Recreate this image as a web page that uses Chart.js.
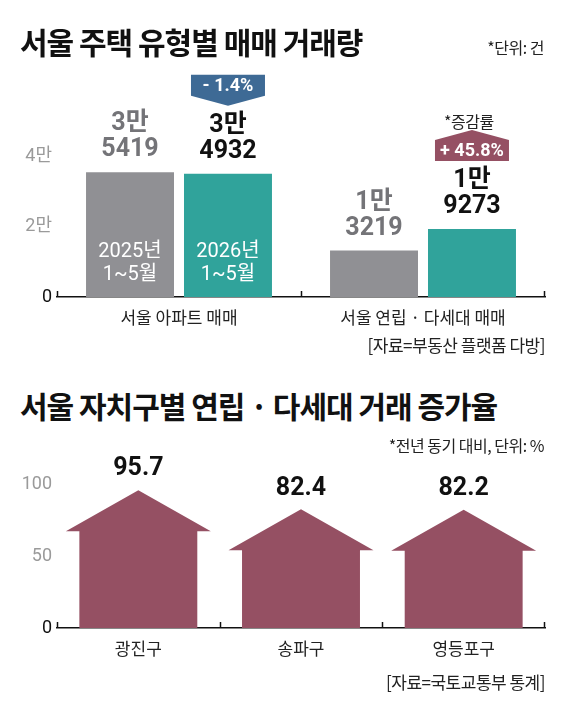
<!DOCTYPE html>
<html>
<head>
<meta charset="utf-8">
<script src="https://cdn.jsdelivr.net/npm/chart.js@4"></script>
<style>
body { margin: 0; background: #fff; }
#wrap { position: relative; width: 566px; height: 716px; overflow: hidden; }
.box { position: absolute; left: 0; width: 566px; }
.t { position: absolute; white-space: nowrap; font-family: 'Noto Sans CJK KR', sans-serif; color: #111; }
.title { font-weight: 700; font-size: 30px; letter-spacing: -1px; line-height: 36px; }
.note { font-size: 16px; line-height: 20px; letter-spacing: -0.5px; color: #222; }
</style>
</head>
<body>
<div id="wrap">
  <div class="box" style="top:0;height:360px"><canvas id="salesChart"></canvas></div>
  <div class="box" style="top:430px;height:286px"><canvas id="growthChart"></canvas></div>

  <div class="t title" style="left:20px;top:23px">서울 주택 유형별 매매 거래량</div>
  <div class="t note" style="right:22px;top:37px">*단위: 건</div>
  <div class="t note" style="left:444px;top:111px">*증감률</div>
  <div class="t note" style="right:21px;top:335px;font-size:17px">[자료=부동산 플랫폼 다방]</div>

  <div class="t title" style="left:20px;top:387px">서울 자치구별 연립 · 다세대 거래 증가율</div>
  <div class="t note" style="right:22px;top:435px">*전년 동기 대비, 단위: %</div>
  <div class="t note" style="right:21px;top:672px;font-size:17px">[자료=국토교통부 통계]</div>
</div>

<script>
// 주택 유형별 매매 거래량 (건)
const housingTypes = ['서울 아파트 매매', '서울 연립 · 다세대 매매'];
const periods = ['2025년 1~5월', '2026년 1~5월'];
const sales2025 = [35419, 13219];
const sales2026 = [34932, 19273];
const salesTicks = [0, 20000, 40000];

// 자치구별 연립·다세대 거래 증가율 (%)
const districts = ['광진구', '송파구', '영등포구'];
const growthRates = [95.7, 82.4, 82.2];
const growthTicks = [0, 50, 100];

const GRAY = '#909094';
const TEAL = '#30a39b';
const MAROON = '#955063';
const BLUE = '#3e6a95';
const NUM_FONT = 'Roboto, "Noto Sans CJK KR", sans-serif';

function manLabel(v) {
    if (v === 0) return '0';
    return (v / 10000) + '만';
}

// x축 눈금 (위로 짧게)
function drawAxisTicks(chart) {
    const ctx = chart.ctx;
    const a = chart.chartArea;
    const n = chart.data.labels.length;
    ctx.save();
    ctx.strokeStyle = '#111';
    ctx.lineWidth = 1.5;
    for (let k = 0; k <= n; k++) {
        const x = Math.round(a.left + k * (a.right - a.left) / n) + (k === n ? -0.5 : 0.5);
        ctx.beginPath();
        ctx.moveTo(x, a.bottom);
        ctx.lineTo(x, a.bottom - 6);
        ctx.stroke();
    }
    ctx.restore();
}

const salesLabels = {
    id: 'salesLabels',
    afterDatasetsDraw(chart) {
        const ctx = chart.ctx;
        ctx.save();
        ctx.textAlign = 'center';
        ctx.textBaseline = 'middle';
        chart.data.datasets.forEach((ds, i) => {
            const meta = chart.getDatasetMeta(i);
            meta.data.forEach((el, j) => {
                const v = ds.data[j];
                ctx.fillStyle = i === 0 ? '#747478' : '#111';
                ctx.font = 'bold 25px ' + NUM_FONT;
                ctx.fillText(Math.floor(v / 10000) + '만', el.x, el.y - 48);
                ctx.fillText(String(v % 10000), el.x, el.y - 22);

                // 막대 안 기간 표시 (첫 묶음만)
                if (j === 0) {
                    const parts = periods[i].split(' ');
                    ctx.fillStyle = '#fff';
                    ctx.font = '20px ' + NUM_FONT;
                    ctx.fillText(parts[0], el.x, el.base - 45);
                    ctx.fillText(parts[1], el.x, el.base - 22);
                }

                // 증감률 배지
                if (i === 1) {
                    const prev = sales2025[j];
                    const pct = (v - prev) / prev * 100;
                    const txt = (pct < 0 ? '- ' : '+ ') + Math.abs(pct).toFixed(1) + '%';
                    const w = 74, h = 21, tri = 10;
                    const bottom = el.y - 68;
                    ctx.beginPath();
                    let top, cy;
                    if (pct < 0) {
                        top = bottom - tri - h;
                        ctx.moveTo(el.x - w / 2, top);
                        ctx.lineTo(el.x + w / 2, top);
                        ctx.lineTo(el.x + w / 2, top + h);
                        ctx.lineTo(el.x, bottom);
                        ctx.lineTo(el.x - w / 2, top + h);
                        ctx.fillStyle = BLUE;
                        cy = top + h / 2;
                    } else {
                        top = bottom - h;
                        ctx.moveTo(el.x - w / 2, bottom);
                        ctx.lineTo(el.x - w / 2, top);
                        ctx.lineTo(el.x, top - tri);
                        ctx.lineTo(el.x + w / 2, top);
                        ctx.lineTo(el.x + w / 2, bottom);
                        ctx.fillStyle = MAROON;
                        cy = top + h / 2;
                    }
                    ctx.closePath();
                    ctx.fill();
                    ctx.fillStyle = '#fff';
                    ctx.font = 'bold 18px ' + NUM_FONT;
                    ctx.fillText(txt, el.x, cy + 1);
                }
            });
        });
        ctx.restore();
        drawAxisTicks(chart);
    }
};

new Chart(document.getElementById('salesChart'), {
    type: 'bar',
    data: {
        labels: housingTypes,
        datasets: [
            { label: periods[0], data: sales2025, backgroundColor: GRAY },
            { label: periods[1], data: sales2026, backgroundColor: TEAL }
        ]
    },
    options: {
        responsive: true,
        maintainAspectRatio: false,
        animation: false,
        events: [],
        categoryPercentage: 0.803,
        barPercentage: 0.898,
        layout: { padding: { left: 0, right: 21, top: 85.5, bottom: 23 } },
        plugins: { legend: { display: false }, tooltip: { enabled: false } },
        scales: {
            x: {
                grid: { display: false, drawTicks: false },
                border: { display: true, color: '#111', width: 1.5 },
                ticks: { color: '#222', font: { size: 17, family: '"Noto Sans CJK KR"' }, padding: 10 },
                afterFit(s) { s.height = 40; }
            },
            y: {
                min: 0,
                max: 60000,
                afterBuildTicks(s) { s.ticks = salesTicks.map(v => ({ value: v })); },
                grid: { display: false, drawTicks: false },
                border: { display: false },
                ticks: {
                    padding: 5,
                    font: { size: 18, family: NUM_FONT },
                    color: c => c.tick && c.tick.value === 0 ? '#111' : '#9a9a9a',
                    callback: v => manLabel(v)
                },
                afterFit(s) { s.width = 57; }
            }
        }
    },
    plugins: [salesLabels]
});

const houses = {
    id: 'houses',
    afterDatasetsDraw(chart) {
        const ctx = chart.ctx;
        const meta = chart.getDatasetMeta(0);
        const roof = 41, eave = 13.5;
        ctx.save();
        meta.data.forEach((el, j) => {
            const half = el.width / 2;
            const eaveY = el.y + roof;
            ctx.beginPath();
            ctx.moveTo(el.x - half, el.base);
            ctx.lineTo(el.x - half, eaveY);
            ctx.lineTo(el.x - half - eave, eaveY);
            ctx.lineTo(el.x, el.y);
            ctx.lineTo(el.x + half + eave, eaveY);
            ctx.lineTo(el.x + half, eaveY);
            ctx.lineTo(el.x + half, el.base);
            ctx.closePath();
            ctx.fillStyle = MAROON;
            ctx.fill();

            ctx.fillStyle = '#111';
            ctx.font = 'bold 25px ' + NUM_FONT;
            ctx.textAlign = 'center';
            ctx.textBaseline = 'middle';
            ctx.fillText(growthRates[j].toFixed(1), el.x, el.y - 21);
        });
        ctx.restore();
        drawAxisTicks(chart);
    }
};

new Chart(document.getElementById('growthChart'), {
    type: 'bar',
    data: {
        labels: districts,
        datasets: [
            { label: '증가율', data: growthRates, backgroundColor: 'rgba(0,0,0,0)' }
        ]
    },
    options: {
        responsive: true,
        maintainAspectRatio: false,
        animation: false,
        events: [],
        categoryPercentage: 1,
        barPercentage: 0.725,
        layout: { padding: { left: 0, right: 21, top: 25.2, bottom: 48 } },
        plugins: { legend: { display: false }, tooltip: { enabled: false } },
        scales: {
            x: {
                grid: { display: false, drawTicks: false },
                border: { display: true, color: '#111', width: 1.5 },
                ticks: { color: '#222', font: { size: 17, family: '"Noto Sans CJK KR"' }, padding: 10 },
                afterFit(s) { s.height = 40; }
            },
            y: {
                min: 0,
                max: 120,
                afterBuildTicks(s) { s.ticks = growthTicks.map(v => ({ value: v })); },
                grid: { display: false, drawTicks: false },
                border: { display: false },
                ticks: {
                    padding: 5,
                    font: { size: 18, family: NUM_FONT },
                    color: c => c.tick && c.tick.value === 0 ? '#111' : '#9a9a9a'
                },
                afterFit(s) { s.width = 57; }
            }
        }
    },
    plugins: [houses]
});
</script>
</body>
</html>
